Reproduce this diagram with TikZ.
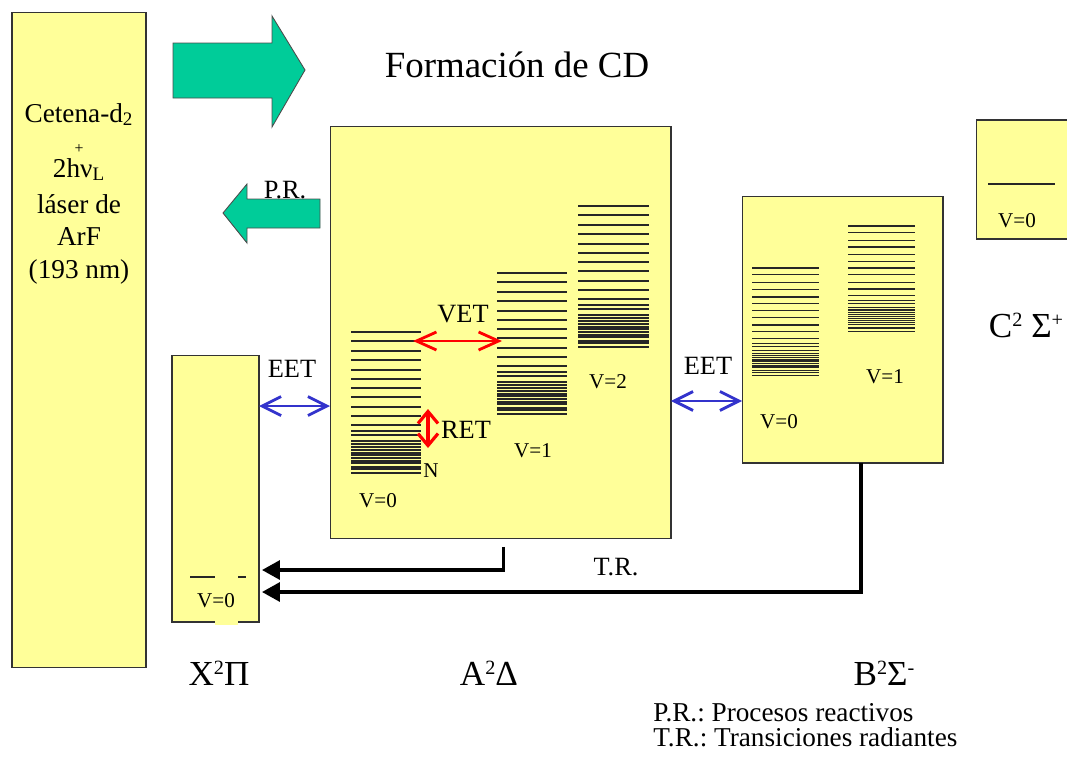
\documentclass[tikz,border=0pt]{standalone}
\usepackage{fontspec}
\setmainfont{Liberation Serif}
\usetikzlibrary{arrows.meta}
\frenchspacing

\definecolor{boxyellow}{HTML}{FFFF99}
\definecolor{arrowgreen}{HTML}{00CC99}
\definecolor{eetblue}{HTML}{3333CC}

% rotational levels: x, top y, width, vertical scale
\newcommand{\vlevels}[4]{%
  \foreach \d in {0,9,19,28,38,47,56,65,75,84,93,99,103,109,112,115,118,121,123,126,129,131,135,137,141}
    {\draw[level] (#1,{#2+#4*\d}) -- ++(#3,0);}%
}
% superscript of the state labels
\newcommand{\stsup}[1]{\raisebox{0.3em}{\fontsize{11.5}{12}\selectfont #1}}

\begin{document}
\begin{tikzpicture}[x=0.02cm, y=-0.02cm,
    statebox/.style={draw=black!80, line width=0.6pt, fill=boxyellow, inner sep=0pt, outer sep=0pt},
    level/.style={line width=0.7pt, draw=black!85},
    greenarrow/.style={fill=arrowgreen, draw=black!70, line width=0.5pt},
    lbl/.style={font=\fontsize{15}{18}\selectfont, anchor=base, inner sep=0pt},
    leglbl/.style={font=\fontsize{15.5}{16}\selectfont, anchor=base west, inner sep=0pt},
    vlbl/.style={font=\fontsize{12}{14}\selectfont, anchor=base, inner sep=0pt},
    statelbl/.style={font=\fontsize{20}{24}\selectfont, anchor=base, inner sep=0pt},
    cetlbl/.style={font=\fontsize{15.5}{18}\selectfont, anchor=base, inner sep=0pt},
    eet/.style={draw=eetblue, line width=1.6pt, >={Straight Barb[length=0.38cm,width=0.38cm]}, <->},
    vet/.style={draw=red, line width=1.6pt, >={Straight Barb[length=0.4cm,width=0.36cm]}, <->},
    ret/.style={draw=red, line width=1.8pt, >={Straight Barb[length=0.24cm,width=0.4cm]}, <->},
    radiative/.style={draw=black, line width=1.9pt, -{Triangle[length=0.36cm,width=0.38cm]}}]

    \useasboundingbox (0,0) rectangle (1067,758);
    \clip (0,0) rectangle (1067,758);

    % boxes
    \node [statebox, minimum width=2.68cm, minimum height=13.12cm] (cetena) at (79,340) {};
    \node [statebox, minimum width=1.74cm, minimum height=5.34cm] (xbox) at (215.5,488.5) {};
    \node [statebox, minimum width=6.82cm, minimum height=8.26cm] (abox) at (500.5,332.5) {};
    \node [statebox, minimum width=4.02cm, minimum height=5.34cm] (bbox) at (842.5,329.5) {};
    \node [statebox, minimum width=2.4cm, minimum height=2.38cm] (cbox) at (1036,179.5) {};
    \fill [boxyellow] (215,620) rectangle (238,625);

    % precursor
    \node [cetlbl] (cet1) at (79,122) {Cetena-d\textsubscript{2}};
    \node [font=\fontsize{9}{10}\selectfont, inner sep=0pt] (cet2) at (79,149) {+};
    \node [cetlbl] (cet3) at (79,177) {2hν\textsubscript{L}};
    \node [cetlbl] (cet4) at (79,213) {láser de};
    \node [cetlbl] (cet5) at (79,245) {ArF};
    \node [cetlbl] (cet6) at (79,278) {(193 nm)};

    % block arrows
    \filldraw [greenarrow] (173,43) -- (272,43) -- (272,16) -- (305,70) -- (272,127) -- (272,98) -- (173,98) -- cycle;
    \filldraw [greenarrow] (320,199) -- (247,199) -- (247,184) -- (223,213) -- (247,243) -- (247,228) -- (320,228) -- cycle;
    \node [font=\fontsize{21}{25}\selectfont, anchor=base, inner sep=0pt] (title) at (517,77) {Formación de CD};
    \node [lbl] (pr) at (285,198) {P.R.};

    % levels
    \vlevels{351}{332}{70}{1}
    \vlevels{497}{273}{70}{1}
    \vlevels{578}{206}{71}{1}
    \vlevels{752}{268}{67}{0.76}
    \vlevels{848}{226}{67}{0.75}
    \draw [level] (190,577) -- (215,577);
    \draw [level] (238,577) -- (246,577);
    \draw [level] (988,184) -- (1055,184);

    \node [vlbl] (a0) at (378,507) {V=0};
    \node [vlbl] (a1) at (533,457) {V=1};
    \node [vlbl] (a2) at (608,388) {V=2};
    \node [vlbl] (nlbl) at (431,477) {N};
    \node [vlbl] (b0) at (779,428) {V=0};
    \node [vlbl] (b1) at (885,383) {V=1};
    \node [vlbl] (x0) at (216,607) {V=0};
    \node [vlbl] (c0) at (1017,227) {V=0};

    % energy transfer
    \coordinate (vet0) at (413,341);
    \coordinate (vet1) at (502,341);
    \coordinate (ret0) at (428,409);
    \coordinate (ret1) at (428,448);
    \draw [vet] (vet0) -- (vet1);
    \draw [ret] (ret0) -- (ret1);
    \node [lbl] (vetlbl) at (463,322) {VET};
    \node [lbl] (retlbl) at (466,438) {RET};

    \coordinate (eetL) at ([yshift=1.65cm]xbox.east);
    \coordinate (eetR) at ([yshift=-1.37cm]abox.east);
    \draw [eet] (eetL) -- (eetL -| abox.west);
    \draw [eet] (eetR) -- (eetR -| bbox.west);
    \node [lbl] (eet1) at (292,377) {EET};
    \node [lbl] (eet2) at (708,374) {EET};

    % radiative transitions
    \coordinate (trA) at (0,570);
    \coordinate (trB) at (0,592);
    \draw [radiative] ([xshift=0.06cm,yshift=-0.16cm]abox.south) |- ([xshift=0.06cm]xbox.east |- trA);
    \draw [radiative] ([xshift=0.37cm]bbox.south) |- ([xshift=0.06cm]xbox.east |- trB);
    \node [lbl] (tr) at (616,575) {T.R.};

    % state labels
    \node [statelbl] (xlbl) at (219,685) {X\stsup{2}Π};
    \node [statelbl] (albl) at (489,685) {A\stsup{2}Δ};
    \node [statelbl] (blbl) at (884,685) {B\stsup{2}Σ\stsup{-}};
    \node [statelbl] (clbl) at (1026,337) {C\stsup{2} Σ\stsup{+}};

    % legend
    \node [leglbl] (leg1) at (653,721) {P.R.: Procesos reactivos};
    \node [leglbl] (leg2) at (653,746) {T.R.: Transiciones radiantes};
\end{tikzpicture}
\end{document}
